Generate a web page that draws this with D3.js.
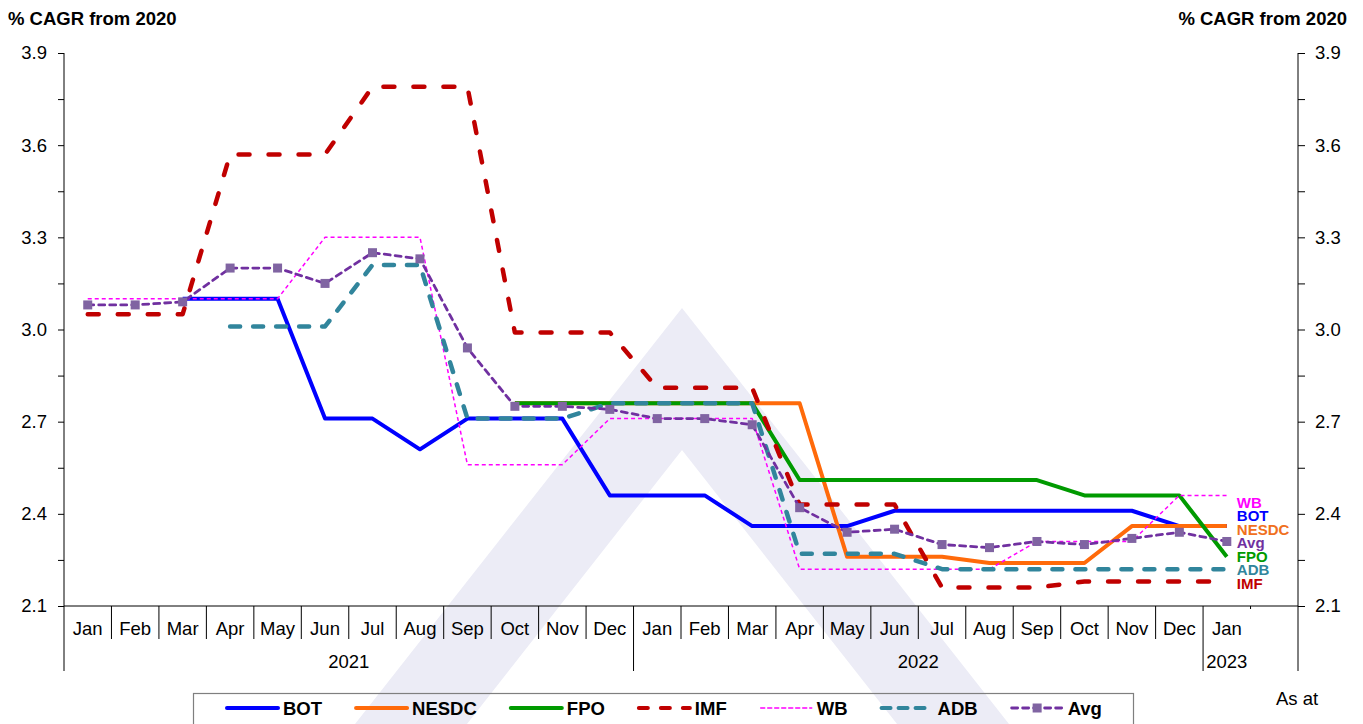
<!DOCTYPE html>
<html>
<head>
<meta charset="utf-8">
<script src="https://cdn.jsdelivr.net/npm/d3@7"></script>
<style>
  html, body { margin: 0; padding: 0; background: #fff; }
  svg { display: block; font-family: Arial, "Liberation Sans", sans-serif; }
</style>
</head>
<body>
<svg id="chart" width="1363" height="724"></svg>
<script>
// months on the x axis (last slot is left empty for end labels)
const months = ["Jan","Feb","Mar","Apr","May","Jun","Jul","Aug","Sep","Oct","Nov","Dec",
                "Jan","Feb","Mar","Apr","May","Jun","Jul","Aug","Sep","Oct","Nov","Dec",
                "Jan"]
const years = [{label: "2021", from: 0, to: 11}, {label: "2022", from: 12, to: 23}, {label: "2023", from: 24, to: 24}]
const yTicks = [2.1, 2.4, 2.7, 3.0, 3.3, 3.6, 3.9]

const BOT   = [null, null, 3.10, 3.10, 3.10, 2.71, 2.71, 2.61, 2.71, 2.71, 2.71, 2.46,
               2.46, 2.46, 2.36, 2.36, 2.36, 2.41, 2.41, 2.41, 2.41, 2.41, 2.41, 2.36, 2.36]
const NESDC = [null, null, null, null, null, null, null, null, null, 2.76, 2.76, 2.76,
               2.76, 2.76, 2.76, 2.76, 2.26, 2.26, 2.26, 2.24, 2.24, 2.24, 2.36, 2.36, 2.36]
const FPO   = [null, null, null, null, null, null, null, null, null, 2.76, 2.76, 2.76,
               2.76, 2.76, 2.76, 2.51, 2.51, 2.51, 2.51, 2.51, 2.51, 2.46, 2.46, 2.46, 2.26]
const IMF   = [3.05, 3.05, 3.05, 3.57, 3.57, 3.57, 3.79, 3.79, 3.79, 2.99, 2.99, 2.99,
               2.81, 2.81, 2.81, 2.43, 2.43, 2.43, 2.16, 2.16, 2.16, 2.18, 2.18, 2.18, 2.18]
const WB    = [3.10, 3.10, 3.10, 3.10, 3.10, 3.30, 3.30, 3.30, 2.56, 2.56, 2.56, 2.71,
               2.71, 2.71, 2.71, 2.22, 2.22, 2.22, 2.22, 2.22, 2.31, 2.31, 2.31, 2.46, 2.46]
const ADB   = [null, null, null, 3.01, 3.01, 3.01, 3.21, 3.21, 2.71, 2.71, 2.71, 2.76,
               2.76, 2.76, 2.76, 2.27, 2.27, 2.27, 2.22, 2.22, 2.22, 2.22, 2.22, 2.22, 2.22]
const Avg   = [3.08, 3.08, 3.09, 3.20, 3.20, 3.15, 3.25, 3.23, 2.94, 2.75, 2.75, 2.74,
               2.71, 2.71, 2.69, 2.42, 2.34, 2.35, 2.30, 2.29, 2.31, 2.30, 2.32, 2.34, 2.31]

const series = [
  {name: "BOT",   values: BOT,   color: "#0000ff", width: 4,   dash: null},
  {name: "NESDC", values: NESDC, color: "#ff6a0a", width: 4,   dash: null},
  {name: "FPO",   values: FPO,   color: "#009a00", width: 4,   dash: null},
  {name: "IMF",   values: IMF,   color: "#c00000", width: 4.5, dash: "11,19", cap: "round"},
  {name: "WB",    values: WB,    color: "#ff00ff", width: 1.5, dash: "4,3"},
  {name: "ADB",   values: ADB,   color: "#31859c", width: 4.5, dash: "10,13", cap: "round"},
  {name: "Avg",   values: Avg,   color: "#7030a0", width: 2.8, dash: "6,5", cap: "round", marker: "#8064a2"},
]

const W = 1363, H = 724
const pLeft = 64, pRight = 1298, pTop = 53, pBottom = 606
const svg = d3.select("#chart")

// watermark chevron
const apexX = (pLeft + pRight) / 2 + 1
svg.append("path")
  .attr("d", `M${apexX - 327},${H} L${apexX},308 L${apexX + 327},${H} L${apexX + 215},${H} L${apexX},450 L${apexX - 215},${H} Z`)
  .attr("fill", "#ececf6")

const slots = d3.range(months.length + 1)
const x = d3.scaleBand().domain(slots).range([pLeft, pRight]).padding(0)
const cx = (i) => x(i) + x.bandwidth() / 2
const y = d3.scaleLinear().domain([2.1, 3.9]).range([pBottom, pTop])

// y axes (major + minor ticks)
const allTicks = d3.range(2.1, 3.91, 0.15).map((v) => +v.toFixed(2))
const fmt = (v) => (yTicks.some((t) => Math.abs(t - v) < 1e-6) ? d3.format(".1f")(v) : "")

const yl = svg.append("g").attr("transform", `translate(${pLeft},0)`)
  .call(d3.axisLeft(y).tickValues(allTicks).tickSize(6).tickPadding(11).tickFormat(fmt))
const yr = svg.append("g").attr("transform", `translate(${pRight},0)`)
  .call(d3.axisRight(y).tickValues(allTicks).tickSize(7).tickPadding(10).tickFormat(fmt))
for (const g of [yl, yr]) {
  g.select(".domain").remove()
  g.selectAll("line").attr("stroke", "#000")
  g.selectAll("text").attr("font-size", 18.5).attr("fill", "#000").attr("font-family", "Arial, 'Liberation Sans', sans-serif")
}
svg.append("line").attr("x1", pLeft).attr("x2", pLeft).attr("y1", pTop).attr("y2", 671).attr("stroke", "#000")
svg.append("line").attr("x1", pRight).attr("x2", pRight).attr("y1", pTop).attr("y2", 671).attr("stroke", "#000")

// x axis
svg.append("line").attr("x1", pLeft).attr("x2", pRight).attr("y1", pBottom).attr("y2", pBottom).attr("stroke", "#000")
const xg = svg.append("g")
months.forEach((m, i) => {
  xg.append("text").attr("x", cx(i)).attr("y", 635).attr("text-anchor", "middle")
    .attr("font-size", 18.5).text(m)
})
const yearStarts = years.map((d) => d.from)
for (let i = 1; i <= months.length; i++) {
  const bx = x(i)
  let y2 = 639
  if (yearStarts.includes(i)) y2 = 671
  if (i === months.length) y2 = pBottom + 3
  xg.append("line").attr("x1", bx).attr("x2", bx).attr("y1", pBottom).attr("y2", y2).attr("stroke", "#000")
}
years.forEach((yv) => {
  const mid = (cx(yv.from) + cx(yv.to)) / 2
  xg.append("text").attr("x", mid).attr("y", 668).attr("text-anchor", "middle")
    .attr("font-size", 18.5).text(yv.label)
})

// titles
svg.append("text").attr("x", 8).attr("y", 25).attr("font-size", 18.5).attr("font-weight", "bold").text("% CAGR from 2020")
svg.append("text").attr("x", 1347).attr("y", 25).attr("text-anchor", "end").attr("font-size", 18.5).attr("font-weight", "bold").text("% CAGR from 2020")

// lines
const line = d3.line().defined((d) => d != null).x((d, i) => cx(i)).y((d) => y(d))
series.forEach((s) => {
  svg.append("path")
    .attr("d", line(s.values))
    .attr("fill", "none")
    .attr("stroke", s.color)
    .attr("stroke-width", s.width)
    .attr("stroke-dasharray", s.dash)
    .attr("stroke-linecap", s.cap || "butt")
    .attr("stroke-linejoin", "round")
  if (s.marker) {
    svg.append("g").selectAll("rect")
      .data(s.values.map((v, i) => ({v, i})).filter((d) => d.v != null))
      .join("rect")
      .attr("x", (d) => cx(d.i) - 4.5)
      .attr("y", (d) => y(d.v) - 4.5)
      .attr("width", 9).attr("height", 9)
      .attr("fill", s.marker)
  }
})

// end labels, stacked by last value
const lastIdx = months.length - 1
const ends = series.map((s, k) => ({s, k, v: s.values[lastIdx]}))
  .sort((a, b) => b.v - a.v || a.k - b.k)
const yFirst = y(ends[0].v) + 7
const yLast = y(ends[ends.length - 1].v) + 2
const step = (yLast - yFirst) / (ends.length - 1)
ends.forEach((e, j) => {
  svg.append("text")
    .attr("x", cx(lastIdx) + 10)
    .attr("y", yFirst + j * step)
    .attr("dy", "0.36em")
    .attr("font-size", 15)
    .attr("font-weight", "bold")
    .attr("fill", e.s.name === "NESDC" ? "#f07020" : e.s.color)
    .text(e.s.name)
})

// legend
svg.append("rect").attr("x", 193.5).attr("y", 693.5).attr("width", 940).attr("height", 40)
  .attr("fill", "none").attr("stroke", "#7f7f7f").attr("stroke-width", 1.2)
let lx = 227
series.forEach((s) => {
  const g = svg.append("g")
  g.append("line").attr("x1", lx).attr("x2", lx + 51).attr("y1", 708).attr("y2", 708)
    .attr("stroke", s.color).attr("stroke-width", Math.min(s.width, 4))
    .attr("stroke-dasharray", s.name === "IMF" ? "9,13" : s.name === "ADB" ? "9,8" : s.dash)
    .attr("stroke-linecap", s.cap || "round")
  if (s.marker) {
    g.append("rect").attr("x", lx + 21).attr("y", 703.5).attr("width", 9).attr("height", 9).attr("fill", s.marker)
  }
  const t = g.append("text").attr("x", lx + 56).attr("y", 715)
    .attr("font-size", 18.5).attr("font-weight", "bold").text(s.name)
  lx += 56 + t.node().getComputedTextLength() + 34
})

svg.append("text").attr("x", 1276).attr("y", 705).attr("font-size", 18.5).text("As at")
</script>
</body>
</html>
